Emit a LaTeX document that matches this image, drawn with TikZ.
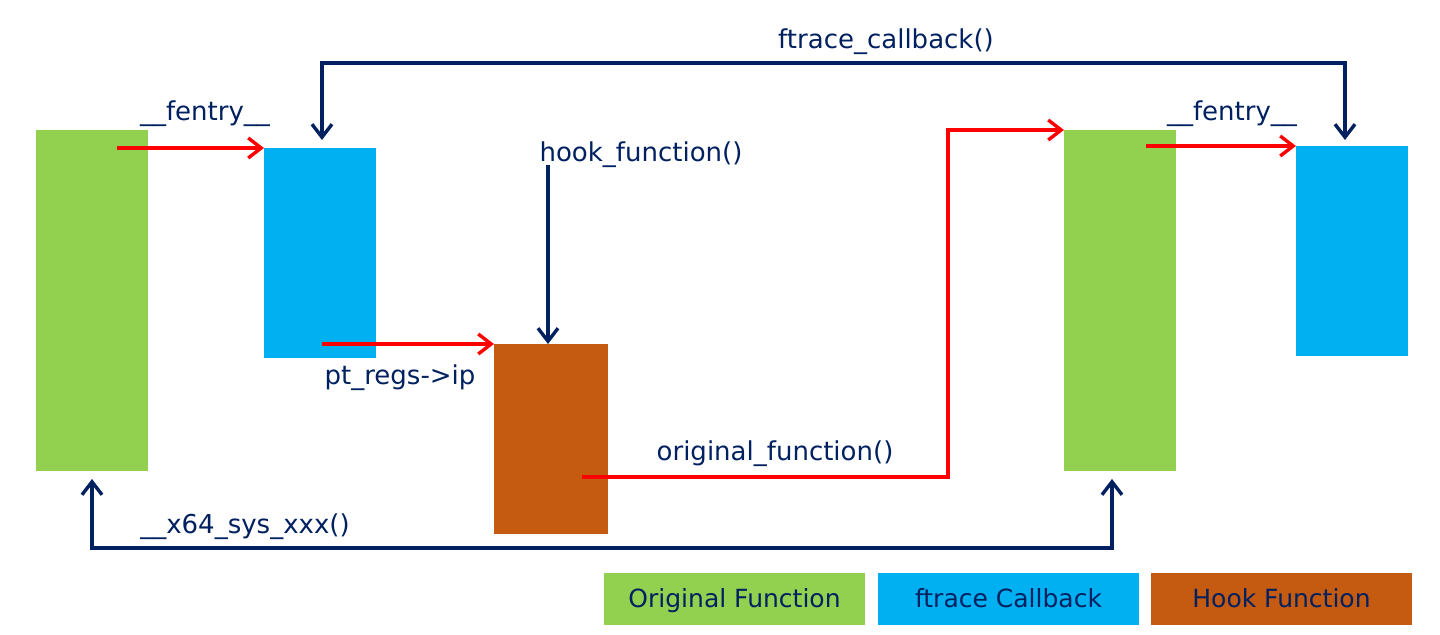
\documentclass[tikz,border=0pt]{standalone}
\usepackage{fontspec}
\setmainfont{DejaVu Sans}
\usetikzlibrary{arrows.meta,calc}
\definecolor{ogreen}{HTML}{92D050}
\definecolor{oblue}{HTML}{00B0F0}
\definecolor{oorange}{HTML}{C55A11}
\definecolor{onavy}{HTML}{002060}
\definecolor{ored}{HTML}{FF0000}
\begin{document}
\begin{tikzpicture}[x=0.5pt,y=-0.5pt,
  blk/.style={draw=none,inner sep=0pt,outer sep=0pt,anchor=north west},
  leg/.style={blk,text=onavy,font=\fontsize{12.5}{15}\selectfont,minimum height=26pt,minimum width=130.5pt,align=center,text height=11pt,text depth=2.5pt},
  lbl/.style={text=onavy,font=\fontsize{13}{15}\selectfont,inner sep=0pt},
  redarr/.style={draw=ored,line width=1.7pt,-{Straight Barb[length=6.5pt,width=10pt]}},
  navarr/.style={draw=onavy,line width=1.7pt,-{Straight Barb[length=6.5pt,width=10pt]}},
  navboth/.style={draw=onavy,line width=1.7pt,{Straight Barb[length=6.5pt,width=10pt]}-{Straight Barb[length=6.5pt,width=10pt]}}]
\useasboundingbox (0,0) rectangle (1440,635);
% blocks
\node[blk,fill=ogreen,minimum width=56pt,minimum height=170.5pt] (g1) at (36,130) {};
\node[blk,fill=oblue,minimum width=56pt,minimum height=105pt] (b1) at (264,148) {};
\node[blk,fill=oorange,minimum width=57pt,minimum height=95pt] (o1) at (494,344) {};
\node[blk,fill=ogreen,minimum width=56pt,minimum height=170.5pt] (g2) at (1064,130) {};
\node[blk,fill=oblue,minimum width=56pt,minimum height=105pt] (b2) at (1296,146) {};
% legend
\node[leg,fill=ogreen] (l1) at (604,573) {Original Function};
\node[leg,fill=oblue] (l2) at (878,573) {ftrace Callback};
\node[leg,fill=oorange] (l3) at (1151,573) {Hook Function};
% labels
\node[lbl] (t1) at (205,114) {\_\_fentry\_\_};
\node[lbl] (t2) at (400,378) {pt\_regs->ip};
\node[lbl] (t3) at (641,155) {hook\_function()};
\node[lbl] (t4) at (775,454) {original\_function()};
\node[lbl] (t5) at (1232,114) {\_\_fentry\_\_};
\node[lbl] (t6) at (886,42) {ftrace\_callback()};
\node[lbl] (t7) at (245,527) {\_\_x64\_sys\_xxx()};
% coordinates
\coordinate (r1s) at (117,148);
\coordinate (r2s) at (322,344);
\coordinate (hks) at (548,165);
\coordinate (r3s) at (582,477);
\coordinate (r3a) at (948,477);
\coordinate (r4s) at (1146,146);
\coordinate (tl) at (322,140);
\coordinate (tr) at (1345,140);
\coordinate (bl) at (92,479);
\coordinate (br) at (1112,479);
% connectors
\draw[redarr] (r1s) -- (b1.north west);
\draw[redarr] (r2s) -- (o1.north west);
\draw[navarr] (hks) -- (hks |- o1.north);
\draw[redarr] (r3s) -- (r3a) |- (g2.north west);
\draw[redarr] (r4s) -- (r4s -| b2.west);
\draw[navboth] (tr) -- ($(tr)+(0,-77)$) -| (tl);
\draw[navboth] (bl) -- ($(bl)+(0,69)$) -| (br);
\end{tikzpicture}
\end{document}
